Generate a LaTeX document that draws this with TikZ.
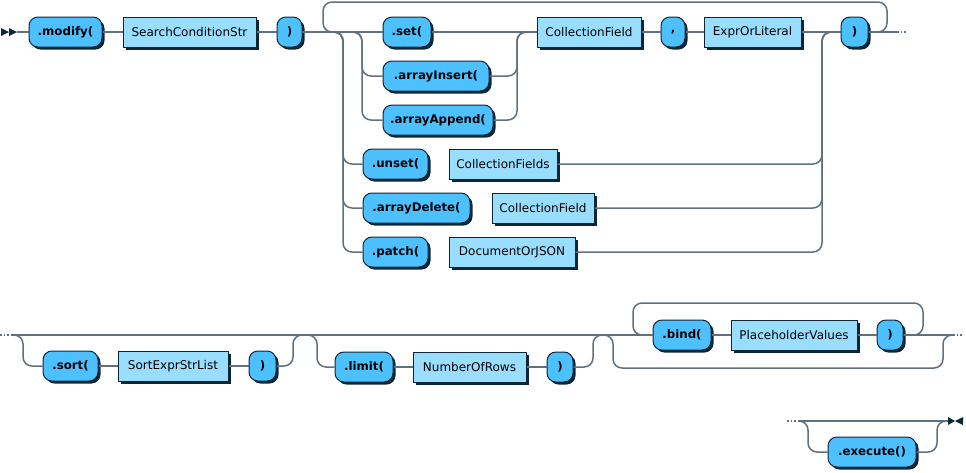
\documentclass[tikz,border=0pt]{standalone}
\usepackage{fontspec}
\setmainfont{DejaVu Sans}
\usepackage{tikz}
\usetikzlibrary{shadows,calc}
\definecolor{termfill}{RGB}{77,193,255}
\definecolor{ntfill}{RGB}{153,221,255}
\definecolor{boxedge}{RGB}{12,38,54}
\definecolor{railgray}{RGB}{96,112,124}

\begin{document}
\begin{tikzpicture}[x=1pt,y=-1pt,
  box/.style={draw=boxedge,line width=1pt,minimum height=30pt,inner sep=0pt,
    drop shadow={shadow xshift=2.5pt,shadow yshift=-2.5pt,fill=boxedge,opacity=1}},
  term/.style={box,fill=termfill,rounded corners=9pt,font=\fontsize{11.8}{14}\selectfont\bfseries},
  nonterm/.style={box,fill=ntfill,font=\fontsize{12}{14}\selectfont},
  rail/.style={draw=railgray,line width=1.5pt,rounded corners=9pt},
  dots/.style={draw=railgray,line width=1.5pt,dash pattern=on 1.5pt off 2pt}]
  \useasboundingbox (0,0) rectangle (966,472);
  % first row
  \node[term,minimum width=73pt] (modify) at (65.5,32) {.modify(};
  \node[nonterm,minimum width=133pt] (scs) at (189.5,32) {SearchConditionStr};
  \node[term,minimum width=25pt] (cl1) at (289.5,32) {)};
  \node[term,minimum width=48pt] (set) at (407,32) {.set(};
  \node[term,minimum width=106pt] (ains) at (436,76) {.arrayInsert(};
  \node[term,minimum width=110pt] (aapp) at (438,120) {.arrayAppend(};
  \node[nonterm,minimum width=104pt] (cf) at (589,32) {CollectionField};
  \node[term,minimum width=24pt] (comma) at (673,32) {,};
  \node[nonterm,minimum width=97pt] (expr) at (752.5,32) {ExprOrLiteral};
  \node[term,minimum width=27pt] (cl2) at (854.5,32) {)};
  \node[term,minimum width=65pt] (unset) at (395.5,164) {.unset(};
  \node[nonterm,minimum width=108pt] (cfs) at (503,164) {CollectionFields};
  \node[term,minimum width=107pt] (adel) at (416.5,208) {.arrayDelete(};
  \node[nonterm,minimum width=102pt] (cfd) at (543,208) {CollectionField};
  \node[term,minimum width=65pt] (patch) at (395.5,252) {.patch(};
  \node[nonterm,minimum width=126pt] (doc) at (512,252) {DocumentOrJSON};
  \coordinate (in1) at (17,32);
  \coordinate (lpL) at (323,32);
  \coordinate (lptop) at (887,2);
  \coordinate (sp1) at (343,32);
  \coordinate (sp2) at (362,32);
  \coordinate (mg1) at (517,32);
  \coordinate (mg2) at (822,32);
  \coordinate (out1) at (897,32);
  \coordinate (dot1) at (907,32);
  \fill[boxedge] (1,28) -- (9,32) -- (1,36) -- cycle (9,28) -- (17,32) -- (9,36) -- cycle;
  \draw[rail] (in1) -- (modify) (modify) -- (scs) (scs) -- (cl1) (cl1) -- (set);
  \draw[rail] (cl2.east) -| (lptop) -| (lpL) -- (sp1);
  \foreach \n in {unset,adel,patch}
    \draw[rail] (cl1.east) -| (sp1 |- \n) -- (\n.west);
  \foreach \n in {ains,aapp}{
    \draw[rail] (cl1.east) -| (sp2 |- \n) -- (\n.west);
    \draw[rail] (\n.east) -| (mg1) -- (cf.west);}
  \draw[rail] (set) -- (cf) (cf) -- (comma) (comma) -- (expr) (expr) -- (cl2) (cl2) -- (out1);
  \foreach \n in {cfs,cfd,doc}
    \draw[rail] (\n.east) -| (mg2) -- (cl2.west);
  \draw[dots] (out1) -- (dot1);
  % second row
  \node[term,minimum width=55pt] (sort) at (70.5,366) {.sort(};
  \node[nonterm,minimum width=110pt] (sel) at (173,366) {SortExprStrList};
  \node[term,minimum width=27pt] (cl3) at (262.5,366) {)};
  \node[term,minimum width=58pt] (limit) at (364,367) {.limit(};
  \node[nonterm,minimum width=113pt] (rows) at (469.5,367) {NumberOfRows};
  \node[term,minimum width=26pt] (cl4) at (560,367) {)};
  \node[term,minimum width=58pt] (bind) at (682,335) {.bind(};
  \node[nonterm,minimum width=126pt] (phv) at (794,335) {PlaceholderValues};
  \node[term,minimum width=26pt] (cl5) at (890,335) {)};
  \coordinate (dot0) at (0,335);
  \coordinate (in2) at (12,335);
  \coordinate (sp3) at (23,335);
  \coordinate (mg3) at (293,335);
  \coordinate (sp4) at (317,335);
  \coordinate (mg4) at (593,335);
  \coordinate (sp5) at (613,335);
  \coordinate (byp) at (943,368);
  \coordinate (lp2L) at (633,335);
  \coordinate (lp2top) at (923,303);
  \coordinate (out2) at (953,335);
  \coordinate (dot2) at (963,335);
  \draw[dots] (dot0) -- (in2);
  \draw[rail] (in2) -- (bind);
  \draw[rail] (in2) -| (sp3 |- sort) -- (sort.west);
  \draw[rail] (sort) -- (sel) (sel) -- (cl3);
  \draw[rail] (cl3.east) -| (mg3) -- (sp4) |- (limit.west);
  \draw[rail] (limit) -- (rows) (rows) -- (cl4);
  \draw[rail] (cl4.east) -| (mg4) -- (sp5) |- (byp) |- (out2);
  \draw[rail] (bind) -- (phv) (phv) -- (cl5) (cl5) -- (out2);
  \draw[rail] (cl5.east) -| (lp2top) -| (lp2L) -- (bind.west);
  \draw[dots] (out2) -- (dot2);
  % third row
  \node[term,minimum width=88pt] (exec) at (872,452) {.execute()};
  \coordinate (dot3) at (787,421);
  \coordinate (in3) at (798,421);
  \coordinate (sp6) at (808,421);
  \coordinate (mg6) at (937,421);
  \coordinate (out3) at (948,421);
  \draw[dots] (dot3) -- (in3);
  \draw[rail] (in3) -- (out3);
  \draw[rail] (in3) -| (sp6 |- exec) -- (exec.west);
  \draw[rail] (exec.east) -| (mg6) -- (out3);
  \fill[boxedge] (948,417) -- (955,421) -- (948,425) -- cycle (963,417) -- (955,421) -- (963,425) -- cycle;
\end{tikzpicture}
\end{document}
